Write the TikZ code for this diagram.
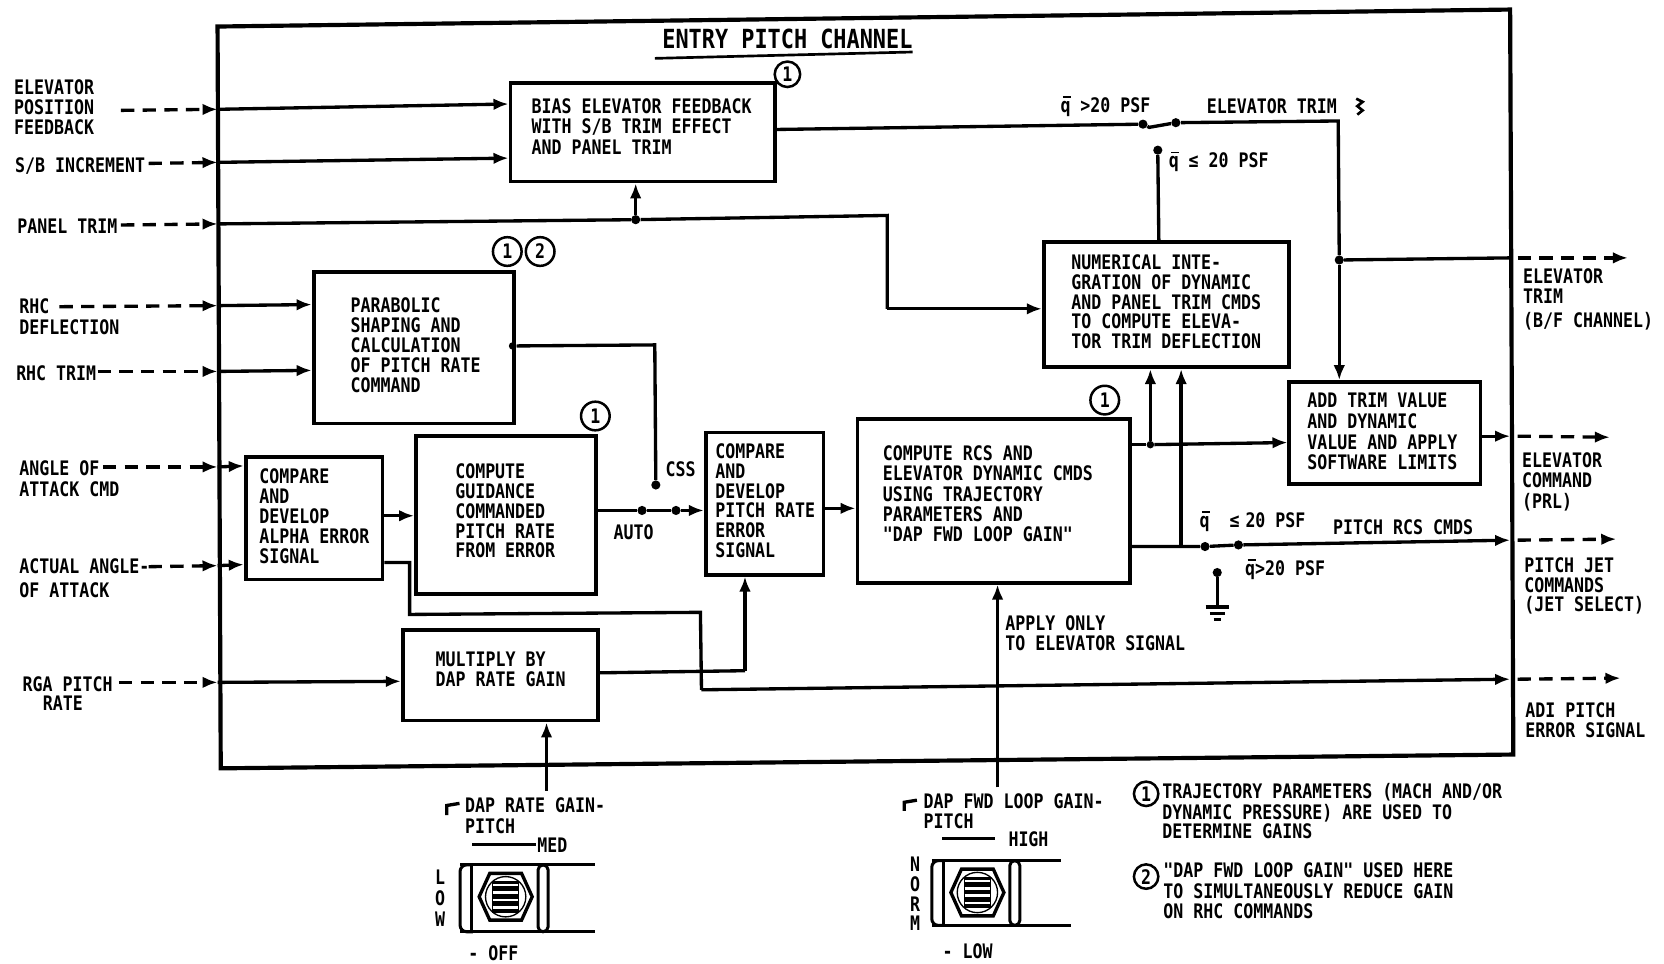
\documentclass[tikz,border=0pt]{standalone}
\usepackage{fontspec}
\usepackage{array}
\usetikzlibrary{arrows.meta}
\newfontfamily\lblface[FakeStretch=0.83]{DejaVu Sans Mono}
\newcommand\lblf{\lblface\bfseries\fontsize{12}{11.9}\selectfont}
\newcommand\ttlf{\lblface\bfseries\fontsize{15.8}{16}\selectfont}
\newdimen\ux \ux=0.6367pt
\newcolumntype{L}{>{\setbox0=\hbox\bgroup}l<{\egroup\smash{\box0}}}
\newcommand\tl[1]{\begin{tabular}[t]{@{}L@{}}#1\end{tabular}}
\newcommand\bxt[4]{\makebox[#1\ux][l]{\hspace*{#2\ux}\raisebox{\dimexpr#3\ux-6.9\ux}[0pt][0pt]{\tl{#4}}}}
\newcommand\lbn[4]{\node[lbl] (#1) at (#2,{#3-6.2}) {\tl{#4}};}
\newcommand\qb{\leavevmode\rlap{\raisebox{0.72em}{\hspace{.12em}\rule{.4em}{.09em}}}q}
\newcommand\swbody[5]{%
 \begin{scope}[shift={(#1,#2)}]
  \draw[sw,rounded corners=4pt] (12,0) -- (0,0) -- (0,#3) -- (12,#3);
  \draw[sw] (11,0) -- (11,#3);
  \draw[sw] (0,0) -- (#4,0);
  \draw[sw] (0,#3) -- (#5,#3);
  \draw[sw,fill=white,rounded corners=3pt] (73.5,#3) -- (73.5,0) -- (83,0) -- (83,#3) -- cycle;
  \draw[line width=2pt,fill=white] (18,30) -- (28,8) -- (58,8) -- (68,30) -- (58,52) -- (28,52) -- cycle;
  \draw[line width=.8pt] (43,30) circle (19);
  \fill (30,15) rectangle (56,45);
  \foreach \yy in {19,26,33,40} \draw[white,line width=1.5pt] (31,\yy) -- (55,\yy);
 \end{scope}}
\tikzset{
 lbl/.style={anchor=north west,inner sep=0pt,font=\lblf},
 box/.style 2 args={draw,line width=2.3pt,inner sep=0pt,minimum width=#1*0.6367pt,minimum height=#2*0.6367pt,font=\lblf},
 wire/.style={line width=2pt},
 sig/.style={wire,-{Latex[length=9pt,width=7pt]}},
 dsh/.style={sig,dash pattern=on 8pt off 5pt},
 dot/.style={circle,fill,inner sep=0pt,minimum size=5.5pt},
 cnum/.style={circle,draw,line width=1.5pt,inner sep=0pt,minimum size=#1*0.6367pt,font=\lblf},
 sw/.style={line width=1.8pt}
}
\begin{document}
\begin{tikzpicture}[x=0.6367pt,y=-0.6367pt]
\useasboundingbox (0,0) rectangle (1568,907.5);
% frame
\draw[line width=2.5pt] (205,25) -- (1423,9) -- (1426,711) -- (208,724) -- cycle;
% title
\node[font=\ttlf,inner sep=0pt] (title) at (742,37) {ENTRY PITCH CHANNEL};
\draw[line width=1.6pt] (617,55) -- (860,49);
% boxes
\node[box={249}{93}] (A) at (605.5,124.5) {\bxt{249}{20}{24.5}{BIAS ELEVATOR FEEDBACK\\[.3pt]WITH S/B TRIM EFFECT\\[.3pt]AND PANEL TRIM}};
\node[box={189}{143}] (B) at (390,327.5) {\bxt{189}{35}{39.5}{PARABOLIC\\SHAPING AND\\CALCULATION\\OF PITCH RATE\\COMMAND}};
\node[box={129}{115}] (C) at (296,488.5) {\bxt{129}{13}{39.5}{COMPARE\\AND\\DEVELOP\\ALPHA ERROR\\SIGNAL}};
\node[box={170}{149}] (D) at (477,485.5) {\bxt{170}{37}{41.5}{COMPUTE\\GUIDANCE\\COMMANDED\\PITCH RATE\\FROM ERROR}};
\node[box={111}{134}] (E) at (720.5,474.5) {\bxt{111}{9}{49.5}{COMPARE\\AND\\DEVELOP\\PITCH RATE\\ERROR\\SIGNAL}};
\node[box={257}{154}] (F) at (936.5,472) {\bxt{257}{24}{45}{COMPUTE RCS AND\\[.3pt]ELEVATOR DYNAMIC CMDS\\[.3pt]USING TRAJECTORY\\[.3pt]PARAMETERS AND\\[.3pt]"DAP FWD LOOP GAIN"}};
\node[box={231}{118}] (G) at (1099,287) {\bxt{231}{26}{40}{NUMERICAL INTE-\\GRATION OF DYNAMIC\\AND PANEL TRIM CMDS\\TO COMPUTE ELEVA-\\TOR TRIM DEFLECTION}};
\node[box={180}{96}] (H) at (1305,408) {\bxt{180}{17}{31}{ADD TRIM VALUE\\[.6pt]AND DYNAMIC\\[.6pt]VALUE AND APPLY\\[.6pt]SOFTWARE LIMITS}};
\node[box={184}{85}] (I) at (471.5,636.5) {\bxt{184}{31}{15.5}{MULTIPLY BY\\DAP RATE GAIN}};
% circled numbers
\node[cnum=24] (n1) at (742,70) {1};
\node[cnum=27] (n2) at (478,237) {1};
\node[cnum=27] (n3) at (509,237) {2};
\node[cnum=27] (n4) at (561,392) {1};
\node[cnum=27] (n5) at (1041,377) {1};
\node[cnum=23] (n6) at (1080,748) {1};
\node[cnum=23] (n7) at (1080,826) {2};
% input labels
\lbn{l1}{13}{82}{ELEVATOR\\POSITION\\FEEDBACK}
\lbn{l2}{14}{155}{S/B INCREMENT}
\lbn{l3}{16}{213}{PANEL TRIM}
\lbn{l4}{18}{288}{RHC\\[.7pt]DEFLECTION}
\lbn{l5}{15}{351}{RHC TRIM}
\lbn{l6}{18}{441}{ANGLE OF\\[.7pt]ATTACK CMD}
\lbn{l7}{18}{533}{ACTUAL ANGLE-\\[2.7pt]OF ATTACK}
\lbn{l8}{21}{644}{RGA PITCH\\\hspace*{19\ux}RATE}
% inner labels
\lbn{q1}{999}{99}{\qb\ >20 PSF}
\lbn{t1}{1137}{100}{ELEVATOR TRIM}
\lbn{q2}{1101}{151}{\qb\ ≤ 20 PSF}
\lbn{css}{627}{442}{CSS}
\lbn{auto}{578}{501}{AUTO}
\lbn{q3}{1130}{490}{\qb\ \ ≤\hspace{.3em}20 PSF}
\lbn{q4}{1173}{535}{\qb>20 PSF}
\lbn{rcs}{1256}{496}{PITCH RCS CMDS}
\lbn{app}{947}{587}{APPLY ONLY\\TO ELEVATOR SIGNAL}
% output labels
\lbn{o1}{1435}{260}{ELEVATOR\\TRIM\\[2.5pt](B/F CHANNEL)}
\lbn{o2}{1434}{433}{ELEVATOR\\[.6pt]COMMAND\\[.6pt](PRL)}
\lbn{o3}{1436}{532}{PITCH JET\\COMMANDS\\(JET SELECT)}
\lbn{o4}{1437}{669}{ADI PITCH\\ERROR SIGNAL}
% switch labels
\lbn{s1}{438}{758}{DAP RATE GAIN-\\[.7pt]PITCH}
\lbn{s2}{506}{796}{MED}
\node[lbl] (s3) at (409.7,{826-6.2}) {\tl{L\\[.8pt]O\\[.8pt]W}};
\lbn{s4}{441}{897.5}{- OFF}
\lbn{s5}{870}{755}{DAP FWD LOOP GAIN-\\PITCH}
\lbn{s6}{950}{790}{HIGH}
\node[lbl] (s7) at (857.2,{814-6.2}) {\tl{N\\O\\R\\M}};
\lbn{s8}{888}{896}{- LOW}
% legend
\lbn{t2}{1095}{745}{TRAJECTORY PARAMETERS (MACH AND/OR\\[.6pt]DYNAMIC PRESSURE) ARE USED TO\\DETERMINE GAINS}
\lbn{t3}{1096}{820}{"DAP FWD LOOP GAIN" USED HERE\\[.6pt]TO SIMULTANEOUSLY REDUCE GAIN\\ON RHC COMMANDS}
% input connectors
\coordinate (a0) at (114,104); \coordinate (a1) at (205,103);
\draw[dsh] (a0) -- (a1); \draw[sig] (a1) -- (A.west |- 0,98);
\coordinate (b0) at (140,154); \coordinate (b1) at (205,153);
\draw[dsh] (b0) -- (b1); \draw[sig] (b1) -- (A.west |- 0,149);
\coordinate (c0) at (114,212); \coordinate (c1) at (205,211);
\node[dot] (jp) at (599,207) {};
\coordinate (c2) at (836,203); \coordinate (c3) at (836,291);
\draw[dsh] (c0) -- (c1);
\draw[wire] (c1) -- (jp) -- (c2) -- (c3);
\draw[sig] (c3) -- (c3 -| G.west);
\draw[sig] (jp) -- (jp |- A.south);
\coordinate (d0) at (56,289); \coordinate (d1) at (205,288);
\draw[dsh] (d0) -- (d1); \draw[sig] (d1) -- (B.west |- 0,287);
\coordinate (e0) at (92,350); \coordinate (e1) at (205,350);
\draw[dsh] (e0) -- (e1); \draw[sig] (e1) -- (B.west |- 0,349);
\coordinate (f0) at (97,440); \coordinate (f1) at (205,440);
\draw[dsh] (f0) -- (f1); \draw[sig] (f1) -- (C.west |- 0,439);
\coordinate (g0) at (140,534); \coordinate (g1) at (205,533);
\draw[dsh] (g0) -- (g1); \draw[sig] (g1) -- (C.west |- 0,532);
\coordinate (h0) at (112,643); \coordinate (h1) at (205,643);
\draw[dsh] (h0) -- (h1); \draw[sig] (h1) -- (I.west |- 0,642);
% parabolic output
\node[dot,minimum size=4.5pt] (bo) at (483,326) {};
\node[dot] (cs) at (618,457) {};
\coordinate (b2) at (617,325);
\draw[wire] (bo) -- (b2) -- (cs);
% C to D, D to E
\coordinate (cd) at (C.east |- 0,486);
\draw[sig] (cd) -- (cd -| D.west);
\node[dot] (sa) at (605,481) {};
\node[dot] (sb) at (637,481) {};
\draw[wire] (D.east |- sa) -- (sa) -- (sb);
\draw[sig] (sb) -- (sb -| E.west);
% E to F
\coordinate (ef) at (E.east |- 0,479);
\draw[sig] (ef) -- (ef -| F.west);
% F outputs
\coordinate (fa) at (F.east |- 0,419);
\node[dot,minimum size=4.5pt] (ja) at (1084,419) {};
\draw[wire] (fa) -- (ja);
\draw[sig] (ja) -- (H.west |- 0,417);
\draw[sig] (ja) -- (ja |- G.south);
\coordinate (fb) at (F.east |- 0,515);
\coordinate (jb) at (1113,515);
\node[dot] (sc) at (1135.5,515) {};
\node[dot] (sd) at (1167,513.5) {};
\draw[wire] (fb) -- (jb) -- (sc) -- (sd);
\draw[sig] (jb) -- (jb |- G.south);
\coordinate (ro) at (1423,509); \coordinate (rd) at (1523,508);
\draw[sig] (sd) -- (ro); \draw[dsh] (1430,509) -- (rd);
% ground
\node[dot] (gd) at (1147,539.5) {};
\coordinate (g2) at (1147,572);
\draw[wire] (gd) -- (g2);
\draw[wire] (1136,572) -- (1158,572);
\draw[wire] (1140,578) -- (1154,578);
\draw[wire] (1143.5,584) -- (1150.5,584);
% alpha error to ADI
\coordinate (k0) at (C.east |- 0,530); \coordinate (k1) at (386,530);
\coordinate (k2) at (386,579); \coordinate (k3) at (660,577);
\coordinate (k4) at (661,650); \coordinate (k5) at (1423,640);
\draw[wire] (k0) -- (k1) -- (k2) -- (k3) -- (k4);
\draw[sig] (k4) -- (k5);
\coordinate (k6) at (1527,639);
\draw[dsh] (1430,640) -- (k6);
% multiply output
\coordinate (m0) at (I.east |- 0,634); \coordinate (m1) at (702,632);
\draw[wire] (m0) -- (m1);
\draw[sig] (m1) -- (m1 |- E.south);
% switches to boxes
\coordinate (w1) at (515,745); \draw[sig] (w1) -- (w1 |- I.south);
\coordinate (w2) at (940,742); \draw[sig] (w2) -- (w2 |- F.south);
% top trim path
\coordinate (t0) at (A.east |- 0,122);
\node[dot] (se) at (1077,117) {};
\node[dot] (sf) at (1108,115.6) {};
\node[dot] (sg) at (1091,141.5) {};
\coordinate (t3) at (1261,114);
\node[dot] (jt) at (1262,245) {};
\draw[wire] (t0) -- (se) -- (1083,120) -- (sf) -- (t3) -- (jt);
\draw[sig] (jt) -- (jt |- H.north);
\draw[wire] (sg.south) -- (1092,228);
\coordinate (ot) at (1423,243); \coordinate (od) at (1534,243);
\draw[wire] (jt) -- (ot);
\draw[dsh] (1430,243) -- (od);
% H output
\coordinate (hh) at (H.east |- 0,411);
\coordinate (hf) at (1423,411); \coordinate (hd) at (1517,412);
\draw[sig] (hh) -- (hf); \draw[dsh] (1430,411) -- (hd);
% break mark
\draw[line width=1.6pt] (1278,93) -- (1284,96) -- (1279,100) -- (1284,104) -- (1279,108);
% switch drawings
\draw[wire] (421,768) -- (421,759) -- (433,757);
\draw[line width=1.5pt] (445,796) -- (505,796);
\swbody{433.5}{815}{63}{127}{127}
\draw[wire] (852,764) -- (852,756) -- (864,754);
\draw[line width=1.5pt] (888,790) -- (938,790);
\swbody{878}{811}{61}{122}{131}
\end{tikzpicture}
\end{document}
